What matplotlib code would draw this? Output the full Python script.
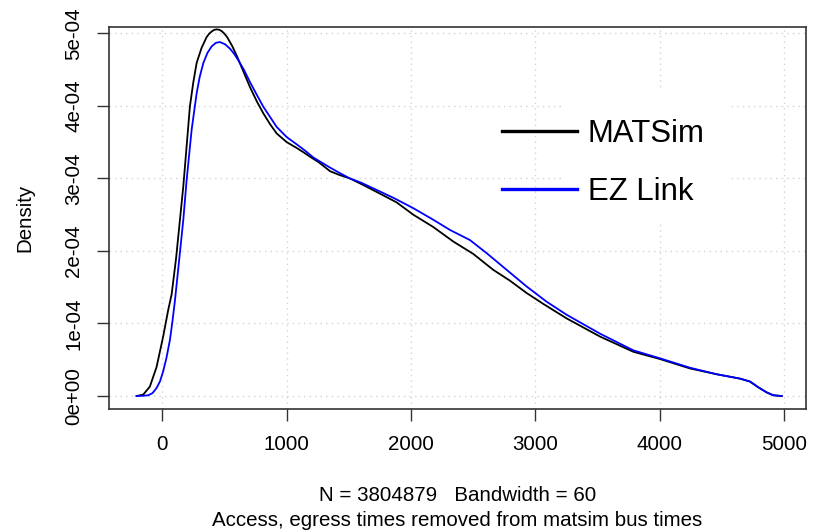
import matplotlib
matplotlib.use("Agg")
import matplotlib.pyplot as plt
from matplotlib.patches import Rectangle

plt.rcParams['font.family'] = ['Liberation Sans', 'DejaVu Sans']

# density estimates
matsim_x = [-208, -154, -101, -47, 6, 47, 74, 110, 141, 168, 195, 221, 248, 275,
            315, 356, 376, 396, 416, 436, 457, 478, 499, 520, 560, 601, 650, 704,
            760, 811, 865, 919, 1000, 1080, 1135, 1187, 1260, 1348, 1420, 1508,
            1615, 1750, 1884, 2018, 2179, 2340, 2500, 2661, 2796, 2930, 3064,
            3252, 3520, 3788, 4002, 4244, 4459, 4646, 4726, 4794, 4861, 4915, 4982]
matsim_y = [0.0, 0.02, 0.13, 0.40, 0.82, 1.19, 1.40, 1.90, 2.43, 2.89, 3.45,
            3.99, 4.32, 4.59, 4.80, 4.95, 4.995, 5.025, 5.048, 5.055, 5.05, 5.03,
            4.995, 4.95, 4.83, 4.68, 4.48, 4.26, 4.06, 3.90, 3.75, 3.62, 3.50,
            3.42, 3.36, 3.30, 3.22, 3.10, 3.05, 3.00, 2.91, 2.79, 2.67, 2.50,
            2.33, 2.13, 1.96, 1.74, 1.59, 1.42, 1.27, 1.07, 0.82, 0.61, 0.51,
            0.38, 0.30, 0.24, 0.20, 0.12, 0.05, 0.01, 0.0]

ezlink_x = [-208, -160, -114, -80, -47, -20, 6, 33, 60, 80, 101, 135, 168, 195,
            235, 275, 300, 329, 362, 396, 430, 463, 503, 543, 576, 610, 655, 704,
            760, 811, 865, 919, 1000, 1080, 1150, 1213, 1280, 1348, 1420, 1508,
            1600, 1700, 1861, 2018, 2179, 2313, 2474, 2608, 2769, 2930, 3091,
            3252, 3520, 3788, 4002, 4244, 4459, 4646, 4726, 4794, 4861, 4915, 4982]
ezlink_y = [0.0, 0.003, 0.01, 0.04, 0.11, 0.20, 0.34, 0.53, 0.77, 1.02, 1.32,
            1.88, 2.43, 2.98, 3.67, 4.17, 4.40, 4.59, 4.73, 4.82, 4.87, 4.88,
            4.85, 4.79, 4.72, 4.63, 4.50, 4.33, 4.15, 3.99, 3.85, 3.71, 3.57,
            3.47, 3.38, 3.29, 3.22, 3.15, 3.08, 3.00, 2.94, 2.86, 2.73, 2.59,
            2.43, 2.29, 2.15, 1.97, 1.74, 1.51, 1.30, 1.12, 0.86, 0.63, 0.52,
            0.39, 0.30, 0.24, 0.20, 0.12, 0.05, 0.01, 0.0]

series_names = ["MATSim", "EZ Link"]
series_colors = ["black", "blue"]
x_ticks = [0, 1000, 2000, 3000, 4000, 5000]
y_ticks = [0, 1e-4, 2e-4, 3e-4, 4e-4, 5e-4]
y_tick_labels = ["0e+00", "1e-04", "2e-04", "3e-04", "4e-04", "5e-04"]

fig = plt.figure(figsize=(8.23, 5.30), dpi=100)
ax = fig.add_axes([0.1324, 0.2283, 0.8469, 0.7208])

for xs, ys, name, col in zip([matsim_x, ezlink_x], [matsim_y, ezlink_y],
                             series_names, series_colors):
    ax.plot(xs, [v * 1e-4 for v in ys], color=col, lw=1.3, label=name, zorder=3)

ax.set_xlim(-430, 5177)
ax.set_ylim(-1.79e-5, 5.088e-4)
ax.set_xticks(x_ticks)
ax.set_xticklabels([str(t) for t in x_ticks])
ax.set_yticks(y_ticks)
ax.set_yticklabels(y_tick_labels, rotation=90, va='center')
ax.tick_params(axis='both', labelsize=14.8, length=8.6, width=1.0, pad=10, color='#333333')

ax.grid(True, color='#d3d3d3', linestyle=(0, (1, 3)), linewidth=1.0, zorder=0)
ax.set_axisbelow(True)
for s in ax.spines.values():
    s.set_linewidth(1.2)
    s.set_color('#333333')

# white patch behind the legend text
ax.add_patch(Rectangle((0.654, 0.49), 0.237, 0.35, transform=ax.transAxes,
                       facecolor='white', edgecolor='none', zorder=1))

leg = ax.legend(loc='center left', bbox_to_anchor=(0.564, 0.644), frameon=False,
                fontsize=22.4, handlelength=2.4, handletextpad=0.35,
                labelspacing=0.9, borderpad=0, borderaxespad=0)
for line in leg.get_lines():
    line.set_linewidth(2.4)

ax.set_ylabel("Density", fontsize=14.8, labelpad=21.5)
ax.set_xlabel("N = 3804879   Bandwidth = 60\nAccess, egress times removed from matsim bus times",
              fontsize=14.8, labelpad=23.5, linespacing=1.37)

fig.savefig("out.png", dpi=100)
